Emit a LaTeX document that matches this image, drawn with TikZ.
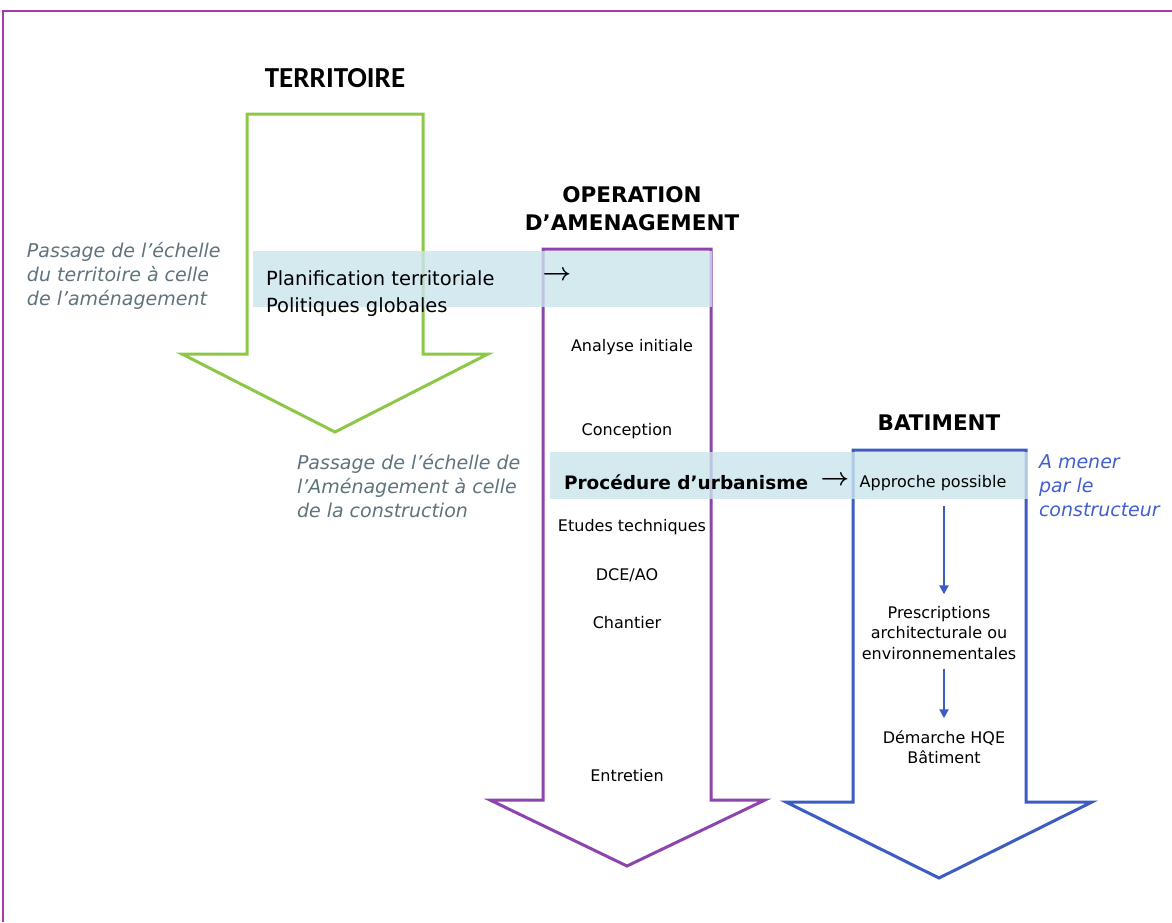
\documentclass[tikz,border=0pt]{standalone}
\usepackage{fontspec}
\setmainfont{DejaVu Sans}
\newfontfamily\condfont{Carlito}
\usetikzlibrary{arrows.meta}
\definecolor{tergreen}{RGB}{140,200,70}
\definecolor{opviolet}{RGB}{142,68,173}
\definecolor{batblue}{RGB}{60,92,195}
\definecolor{bandblue}{RGB}{203,229,236}
\definecolor{notegrey}{RGB}{95,115,125}
\definecolor{noteblue}{RGB}{65,95,205}
\definecolor{framecol}{RGB}{165,60,170}
\begin{document}
\begin{tikzpicture}[x=1pt,y=-1pt,
  bigarrow/.style={line width=3pt, line join=miter, fill=white},
  band/.style={fill=bandblue, fill opacity=0.8},
  txt/.style={inner sep=0pt, outer sep=0pt},
  heading/.style={txt, font=\bfseries\fontsize{21.5}{28}\selectfont, align=center},
  note/.style={txt, font=\itshape\fontsize{19}{24}\selectfont, align=left, text=notegrey},
  bandtext/.style={txt, font=\fontsize{19.5}{27}\selectfont, align=left},
  stage/.style={txt, font=\fontsize{16}{20.5}\selectfont, align=center},
  textarrow/.style={txt, font=\fontsize{24}{24}\selectfont\boldmath},
  conn/.style={draw=batblue, line width=2.5pt, -{Triangle[length=9pt,width=9pt]}}]
\useasboundingbox (0,0) rectangle (1172,922);

% page frame
\draw[framecol, line width=1.5pt] (1172,11) -- (3,11) -- (3,922);

% three block arrows
\draw[bigarrow, draw=tergreen] (247,114) -- (423,114) -- (423,354) -- (488,354)
  -- (335,432) -- (182,354) -- (247,354) -- cycle;
\draw[bigarrow, draw=opviolet] (543,249) -- (711,249) -- (711,800) -- (765,800)
  -- (627,866) -- (490,800) -- (543,800) -- cycle;
\draw[bigarrow, draw=batblue] (853,450) -- (1026,450) -- (1026,802) -- (1092,802)
  -- (939,878) -- (786,802) -- (853,802) -- cycle;

% transition bands
\fill[band] (253,251) rectangle (712,307);
\fill[band] (550,452) rectangle (1028,499);

% headings
\node[txt, font=\condfont\bfseries\fontsize{29}{30}\selectfont] (territoire) at (335,78) {TERRITOIRE};
\node[heading] (operation) at (632,209) {OPERATION\\D’AMENAGEMENT};
\node[heading] (batiment) at (939,423) {BATIMENT};

% side notes
\node[note, anchor=west] (note1) at (27,276) {Passage de l’échelle\\du territoire à celle\\de l’aménagement};
\node[note, anchor=west] (note2) at (297,486) {Passage de l’échelle de\\l’Aménagement à celle\\de la construction};
\node[note, anchor=west, text=noteblue] (note3) at (1039,486) {A mener\\par le\\constructeur};

% first band
\node[bandtext, anchor=west] (planif) at (266,294) {Planification territoriale\\Politiques globales};
\node[textarrow] (arr1) at (557,276) {$\rightarrow$};

% stages of the operation
\node[stage] (analyse) at (632,347) {Analyse initiale};
\node[stage] (conception) at (627,431) {Conception};
\node[txt, font=\bfseries\fontsize{18.5}{24}\selectfont, anchor=west] (procedure) at (564,482) {Procédure d’urbanisme};
\node[textarrow] (arr2) at (835,481) {$\rightarrow$};
\node[stage] (approche) at (933,483) {Approche possible};
\node[stage] (etudes) at (632,527) {Etudes techniques};
\node[stage] (dce) at (627,575) {DCE/AO};
\node[stage] (chantier) at (627,623) {Chantier};
\node[stage] (entretien) at (627,776) {Entretien};

% building steps
\node[stage] (prescr) at (939,633) {Prescriptions\\architecturale ou\\environnementales};
\node[stage] (demarche) at (944,747) {Démarche HQE\\Bâtiment};
\draw[conn, shorten <=15pt, shorten >=12pt] (approche.south -| demarche.center) -- (prescr.north -| demarche.center);
\draw[conn, shorten <=9pt, shorten >=12pt] (prescr.south -| demarche.center) -- (demarche.north -| demarche.center);
\end{tikzpicture}
\end{document}
